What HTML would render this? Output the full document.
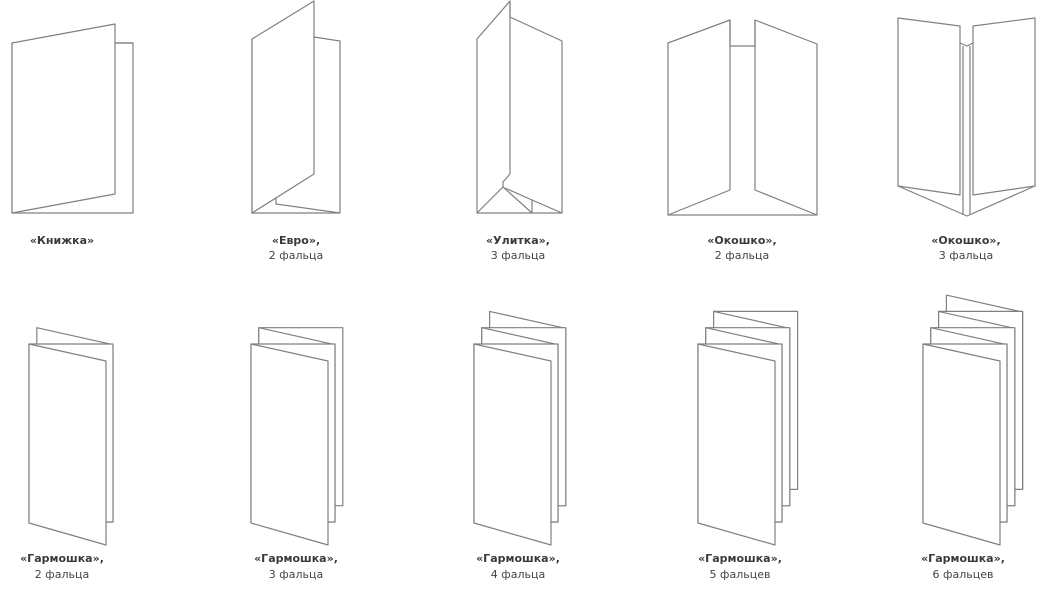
<!DOCTYPE html>
<html><head><meta charset="utf-8"><style>
html,body{margin:0;padding:0;background:#fff;}
svg{display:block;}
.p{fill:#fff;stroke:#808080;stroke-width:1.2;stroke-linejoin:round;}
.l{fill:none;stroke:#808080;stroke-width:1.2;}
.t1{font-family:"DejaVu Sans","Liberation Sans",sans-serif;font-size:11px;font-weight:bold;fill:#3a3a3a;}
.t2{font-family:"DejaVu Sans","Liberation Sans",sans-serif;font-size:11px;fill:#444;}
</style></head><body>
<svg id="s" width="1047" height="591" viewBox="0 0 1047 591">
<g>
<polygon class="p" points="12,43 133,43 133,213 12,213"/>
<polygon class="p" points="12,43 115,24 115,194 12,213"/>
<line class="l" x1="115" y1="43" x2="133" y2="43"/>
</g>
<g>
<polygon class="p" points="252,39 314,37 340,41 340,213 252,213"/>
<polyline class="l" points="276,197 276,204 340,213"/>
<polygon class="p" points="252,39 314,1 314,174 252,213"/>
</g>
<g>
<polygon class="p" points="477,39 510,1 510,17 562,41 562,213 477,213"/>
<line class="l" x1="510" y1="1" x2="510" y2="174"/>
<polyline class="l" points="510,174 503,182 503,187"/>
<polyline class="l" points="477,213 503,187 532,213"/>
<polyline class="l" points="505,188 532,200 562,213"/>
<line class="l" x1="532" y1="200" x2="532" y2="213"/>
</g>
<g>
<polygon class="p" points="668,215 817,215 817,44 755,20 755,46 730,46 730,20 668,43"/>
<line class="l" x1="730" y1="20" x2="730" y2="190"/>
<line class="l" x1="755" y1="20" x2="755" y2="190"/>
<line class="l" x1="668" y1="215" x2="730" y2="190"/>
<line class="l" x1="755" y1="190" x2="817" y2="215"/>
</g>
<g>
<polygon class="p" points="898,186 967,216 1035,186 973,43 967,46 960,43"/>
<line class="l" x1="963" y1="46" x2="963" y2="215"/>
<line class="l" x1="970" y1="46" x2="970" y2="215"/>
<polygon class="p" points="898,18 960,26 960,195 898,186"/>
<polygon class="p" points="973,26 1035,18 1035,186 973,195"/>
</g>
<g>
<text class="t1" x="62" y="244" text-anchor="middle">«Книжка»</text>
<text class="t1" x="296" y="244" text-anchor="middle">«Евро»,</text>
<text class="t2" x="296" y="259" text-anchor="middle">2 фальца</text>
<text class="t1" x="518" y="244" text-anchor="middle">«Улитка»,</text>
<text class="t2" x="518" y="259" text-anchor="middle">3 фальца</text>
<text class="t1" x="742" y="244" text-anchor="middle">«Окошко»,</text>
<text class="t2" x="742" y="259" text-anchor="middle">2 фальца</text>
<text class="t1" x="966" y="244" text-anchor="middle">«Окошко»,</text>
<text class="t2" x="966" y="259" text-anchor="middle">3 фальца</text>
</g>
<g id="row2"></g>
</svg>
<script>
const foldCounts = [2, 3, 4, 5, 6];
const foldWords = ["2 фальца", "3 фальца", "4 фальца", "5 фальцев", "6 фальцев"];
const colX = [29, 251, 474, 698, 923];
const labelX = [62, 296, 518, 740, 963];
const NS = "http://www.w3.org/2000/svg";
const row = document.getElementById("row2");
const Y0 = 344, DX = 7.8, DY = -16.3;
foldCounts.forEach((n, c) => {
  const g = document.createElementNS(NS, "g");
  
  
  for (let j = n; j >= 0; j--) {
    const k = Math.floor(j / 2);
    const x = colX[c] + k * DX, y = Y0 + k * DY;
    const poly = document.createElementNS(NS, "polygon");
    poly.setAttribute("class", "p");
    if (j % 2 === 0) {
      if (k === 0) {
        poly.setAttribute("points", `${x},${y} ${x+77},${y+17} ${x+77},${y+201} ${x},${y+179}`);
      } else {
        const w = 84 - DX;
        const by = y + 178 - DY;
        poly.setAttribute("points", `${x},${y} ${x+w},${y+17} ${x+w},${by} ${x},${by}`);
      }
      
    } else {
      poly.setAttribute("points", `${x},${y} ${x+84},${y} ${x+84},${y+178} ${x},${y+178}`);
      
    }
    
    g.appendChild(poly);
  }
  const t1 = document.createElementNS(NS, "text");
  t1.setAttribute("class", "t1"); t1.setAttribute("x", labelX[c]); t1.setAttribute("y", 562);
  t1.setAttribute("text-anchor", "middle"); t1.textContent = "«Гармошка»,";
  
  
  g.appendChild(t1);
  const t2 = document.createElementNS(NS, "text");
  t2.setAttribute("class", "t2"); t2.setAttribute("x", labelX[c]); t2.setAttribute("y", 578);
  t2.setAttribute("text-anchor", "middle"); t2.textContent = foldWords[c];
  
  
  g.appendChild(t2);
  row.appendChild(g);
});
</script>
</body></html>
